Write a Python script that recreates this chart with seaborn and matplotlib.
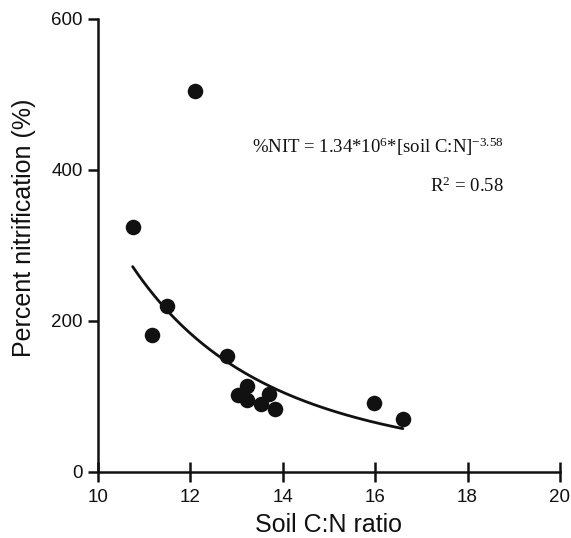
import numpy as np
import pandas as pd
import matplotlib
matplotlib.use("Agg")
import matplotlib.pyplot as plt
import seaborn as sns

cn_ratio = [10.75, 12.09, 11.49, 11.16, 12.79, 13.23, 13.03, 13.23, 13.71, 13.53, 13.83, 15.98, 16.60]
pct_nit = [324, 504, 220, 182, 153, 114, 102, 95, 103, 90, 84, 92, 70]
fit_a = 1.34e6
fit_b = -3.58
x_ticks = [10, 12, 14, 16, 18, 20]
y_ticks = [0, 200, 400, 600]

sns.set_theme(style="ticks")
plt.rcParams['font.family'] = ['Liberation Sans', 'DejaVu Sans']
plt.rcParams['mathtext.fontset'] = 'custom'
plt.rcParams['mathtext.rm'] = 'Liberation Serif'
plt.rcParams['mathtext.it'] = 'Liberation Serif:italic'

fig = plt.figure(figsize=(5.71, 5.38), dpi=100)
ax = fig.add_axes([0.1716, 0.1227, 0.809, 0.842])

df = pd.DataFrame({"cn": cn_ratio, "nit": pct_nit})
sns.scatterplot(data=df, x="cn", y="nit", ax=ax, s=125, color="#111111",
                edgecolor="#111111", linewidth=0, zorder=3)

xf = np.linspace(min(cn_ratio), max(cn_ratio), 200)
yf = fit_a * xf ** fit_b
sns.lineplot(x=xf, y=yf, ax=ax, color="#111111", linewidth=2, zorder=2)

ax.set_xlim(10, 20)
ax.set_ylim(0, 600)
ax.set_xticks(x_ticks)
ax.set_yticks(y_ticks)
ax.set_xlabel("Soil C:N ratio", fontsize=18, labelpad=5, color="#111111")
ax.set_ylabel("Percent nitrification (%)", fontsize=18, color="#111111")
ax.yaxis.set_label_coords(-0.134, 0.539)
ax.tick_params(axis="x", direction="inout", length=14, width=1.8, pad=5,
               labelsize=13.5, color="#111111", labelcolor="#111111")
ax.tick_params(axis="y", direction="out", length=7, width=1.8, pad=4,
               labelsize=13.5, color="#111111", labelcolor="#111111")
for sp in ["left", "bottom"]:
    ax.spines[sp].set_linewidth(1.8)
    ax.spines[sp].set_color("#111111")
sns.despine(ax=ax)

ax.text(0.879, 0.704, r"%NIT = 1.34*10$^{6}$*[soil C:N]$^{\mathrm{-3.58}}$",
        transform=ax.transAxes, ha="right", va="baseline",
        fontsize=13.5, family=["Liberation Serif"], color="#111111")
ax.text(0.879, 0.618, r"R$^{2}$ = 0.58",
        transform=ax.transAxes, ha="right", va="baseline",
        fontsize=13.5, family=["Liberation Serif"], color="#111111")

fig.savefig("out.png", dpi=100)
